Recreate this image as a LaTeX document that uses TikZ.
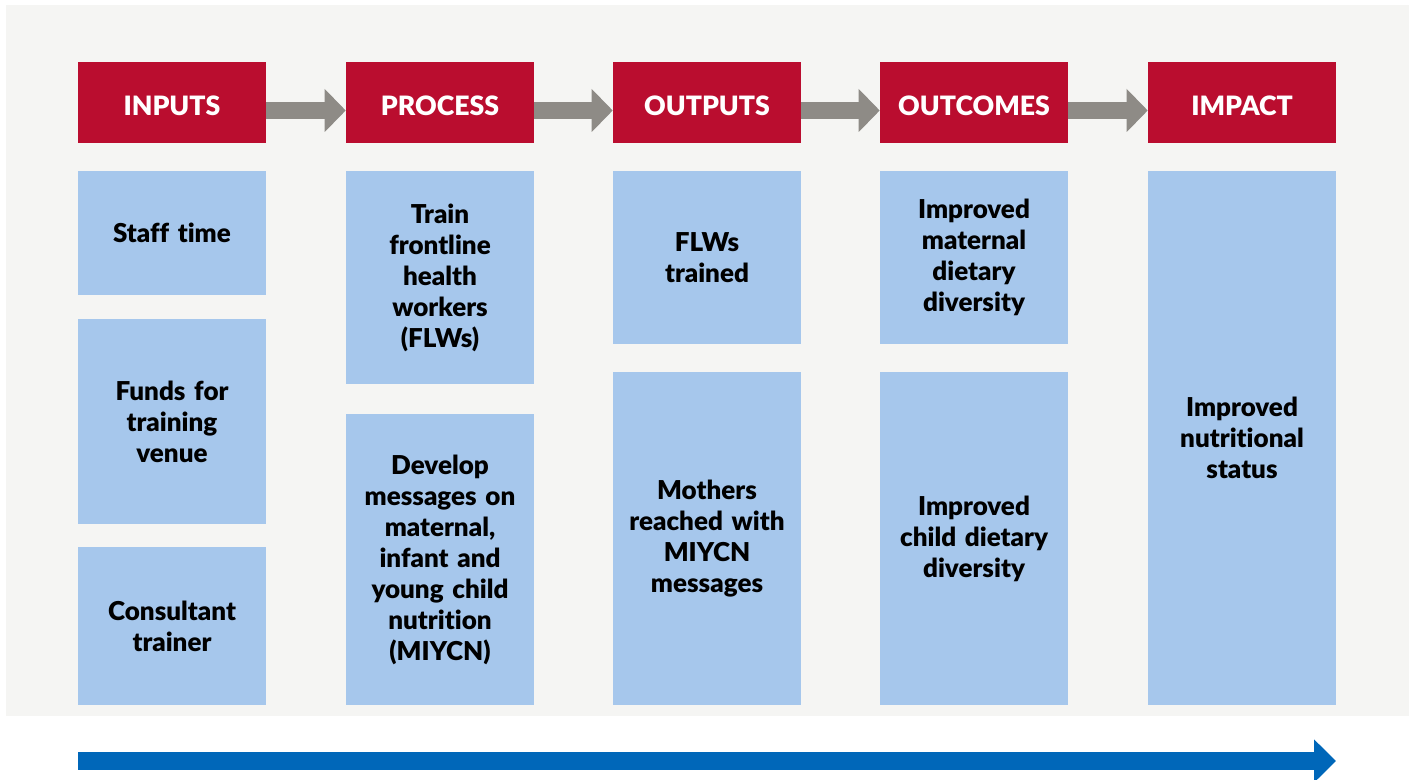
\documentclass[tikz,border=0pt]{standalone}
\usepackage{fontspec}
\setmainfont{Lato}[BoldFont={Lato Black},Ligatures=NoCommon]
\usetikzlibrary{arrows.meta,calc}

\definecolor{panelgray}{HTML}{F5F5F3}
\definecolor{stagered}{HTML}{BA0D2F}
\definecolor{cellblue}{HTML}{A6C7EC}
\definecolor{linkgray}{HTML}{8E8B86}
\definecolor{timeblue}{HTML}{0067B9}

\tikzset{
  stage/.style={fill=stagered, text=white, inner sep=0pt,
    minimum width=141pt, minimum height=60.75pt,
    text height=19.3pt, text depth=0pt,
    font=\fontsize{20}{24}\selectfont\bfseries},
  cell/.style={fill=cellblue, inner sep=0pt, align=center, text width=138pt,
    minimum width=141pt, minimum height=#1*0.75pt,
    font=\fontsize{19.5}{23.25}\selectfont\bfseries},
  link/.style={draw=linkgray, line width=13.2pt,
    -{Triangle[length=15.75pt,width=31.3pt]}},
  timeline/.style={draw=timeblue, line width=13.95pt,
    -{Triangle[length=16.5pt,width=31.5pt]}},
}

\begin{document}
\begin{tikzpicture}[x=0.75pt,y=0.75pt,yscale=-1,xscale=1]
  \useasboundingbox (0,0) rectangle (1409,780);
  \fill[panelgray] (6,5) rectangle (1409,716); % Panel

  % Stage headers
  \node[stage] (inputs)   at (172,102.5)  {INPUTS};
  \node[stage] (process)  at (440,102.5)  {PROCESS};
  \node[stage] (outputs)  at (707,102.5)  {OUTPUTS};
  \node[stage] (outcomes) at (974,102.5)  {OUTCOMES};
  \node[stage] (impact)   at (1242,102.5) {IMPACT};

  % Links between headers
  \draw[link] ($(inputs.east)+(0,8)$) -- ($(process.west)+(0,8)$);
  \draw[link] ($(process.east)+(0,8)$) -- ($(outputs.west)+(0,8)$);
  \draw[link] ($(outputs.east)+(0,8)$) -- ($(outcomes.west)+(0,8)$);
  \draw[link] ($(outcomes.east)+(0,8)$) -- ($(impact.west)+(0,8)$);

  % Inputs
  \node[cell=124] (staff)   at (172,233)   {Staff time};
  \node[cell=205] (funds)   at (172,421.5) {Funds for\\training\\venue};
  \node[cell=158] (trainer) at (172,626)   {Consultant\\trainer};

  % Process
  \node[cell=213] (train)   at (440,277.5) {Train\\frontline\\health\\workers\\(FLWs)};
  \node[cell=291] (develop) at (440,559.5) {Develop\\messages on\\maternal,\\infant and\\young child\\nutrition\\(MIYCN)};

  % Outputs
  \node[cell=173] (trained) at (707,257.5) {FLWs\\trained};
  \node[cell=333] (reached) at (707,538.5) {Mothers\\reached with\\MIYCN\\messages};

  % Outcomes
  \node[cell=173] (maternal) at (974,257.5) {Improved\\maternal\\dietary\\diversity};
  \node[cell=333] (child)    at (974,538.5) {Improved\\child dietary\\diversity};

  % Impact
  \node[cell=534] (status) at (1242,438) {Improved\\nutritional\\status};

  % Time arrow
  \coordinate (tstart) at (78,761);
  \coordinate (tend) at (1336,761);
  \draw[timeline] (tstart) -- (tend);
\end{tikzpicture}
\end{document}
